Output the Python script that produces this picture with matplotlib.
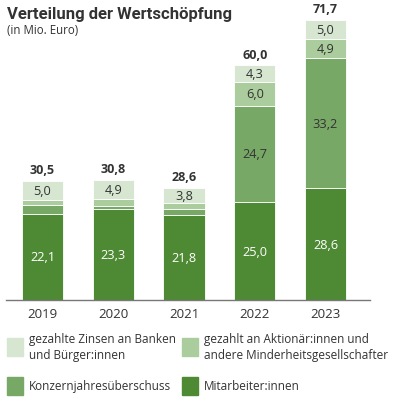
import matplotlib.pyplot as plt
from matplotlib.patches import Rectangle

plt.rcParams['font.family'] = ['Open Sans', 'DejaVu Sans']

years = ['2019', '2020', '2021', '2022', '2023']
mitarbeiter = [22.1, 23.3, 21.8, 25.0, 28.6]
konzern = [2.2, 0.7, 1.4, 24.7, 33.2]
aktionaere = [1.2, 1.9, 1.6, 6.0, 4.9]
zinsen = [5.0, 4.9, 3.8, 4.3, 5.0]
totals = [30.5, 30.8, 28.6, 60.0, 71.7]

c_mit = '#4e8934'
c_konz = '#78a866'
c_akt = '#abcd9d'
c_zins = '#d6e6d1'
txt = '#333333'

def fmt(v):
    return f'{v:.1f}'.replace('.', ',')

fig = plt.figure(figsize=(3.96, 4.06), dpi=100)
W, H = 396, 406
ax = fig.add_axes([6 / W, (H - 301) / H, 364 / W, 281.5 / H])

x = list(range(len(years)))
width = 0.58
series = [(mitarbeiter, c_mit, 'white'), (konzern, c_konz, txt),
          (aktionaere, c_akt, txt), (zinsen, c_zins, txt)]
bottom = [0.0] * len(years)
for vals, col, tcol in series:
    ax.bar(x, vals, width, bottom=bottom, color=col, edgecolor='white', linewidth=0.6)
    for i, v in enumerate(vals):
        if v >= 3.5:
            ax.text(i, bottom[i] + v / 2, fmt(v), ha='center', va='center',
                    color=tcol, fontsize=9.2)
    bottom = [b + v for b, v in zip(bottom, vals)]

for i, t in enumerate(totals):
    ax.text(i, bottom[i] + 1.2, fmt(t), ha='center', va='bottom',
            color=txt, fontsize=9, fontweight='bold')

ax.set_xlim(-0.516, 4.629)
ax.set_ylim(0, 72)
ax.set_yticks([])
ax.set_xticks(x)
ax.set_xticklabels(years, fontsize=9.5, color=txt)
ax.tick_params(axis='x', length=0, pad=5)
for s in ['top', 'right', 'left']:
    ax.spines[s].set_visible(False)
ax.spines['bottom'].set_color('#777777')
ax.spines['bottom'].set_linewidth(1.0)

fig.text(7 / W, 1 - 14 / H, 'Verteilung der Wertschöpfung', fontsize=12,
         fontweight='bold', color=txt, va='center', family=['Roboto', 'DejaVu Sans'])
fig.text(7 / W, 1 - 30 / H, '(in Mio. Euro)', fontsize=8.3, color=txt, va='center')

legend = [
    (7, 348, c_zins, 'gezahlte Zinsen an Banken\nund Bürger:innen'),
    (182, 348, c_akt, 'gezahlt an Aktionär:innen und\nandere Minderheitsgesellschafter'),
    (7, 387, c_konz, 'Konzernjahresüberschuss'),
    (182, 387, c_mit, 'Mitarbeiter:innen'),
]
for lx, ly, col, label in legend:
    fig.patches.append(Rectangle((lx / W, 1 - (ly + 9) / H), 16 / W, 18 / H,
                                 transform=fig.transFigure, color=col))
    fig.text((lx + 22) / W, 1 - ly / H, label, fontsize=8.5, color=txt,
             va='center', linespacing=1.3)

fig.savefig('out.png', dpi=100)
